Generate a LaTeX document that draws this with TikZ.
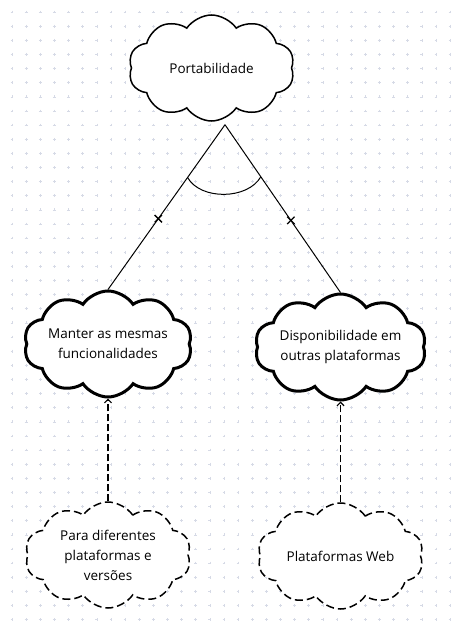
\documentclass[tikz,border=0pt]{standalone}
\usepackage{fontspec}
\setmainfont{Open Sans}
\usetikzlibrary{shapes.symbols,shapes.misc,arrows.meta,calc}
\definecolor{griddot}{RGB}{214,218,230}
\begin{document}
\begin{tikzpicture}[x=1pt,y=-1pt,
  cloudbox/.style={cloud, cloud puffs=10, cloud puff arc=112, cloud ignores aspect, draw, fill=white, align=center,
    font=\fontsize{13.5}{20}\selectfont, inner sep=0pt, minimum width=166, minimum height=106},
  softbold/.style={cloudbox, line width=3pt},
  softthin/.style={cloudbox, line width=1.5pt},
  softdash/.style={cloudbox, line width=1.5pt, dash pattern=on 8pt off 4pt},
  conn/.style={line width=1pt},
  plusmark/.style={cross out, draw, fill=white, line width=1.3pt, minimum size=6pt, inner sep=0pt},
  dasharrow/.style={line width=1.3pt, dash pattern=on 7pt off 3pt, -{Straight Barb[length=3.5pt,width=7pt,line width=1.2pt]}}]
\useasboundingbox (0,0) rectangle (450,626);
\fill[white] (0,0) rectangle (450,626);
\foreach \i in {0,...,31}{\foreach \j in {0,...,43}{
  \pgfmathsetmacro\gx{12+14.13*\i}\pgfmathsetmacro\gy{12+14.13*\j}
  \draw[griddot,line width=0.5pt] (\gx-1.4,\gy)--(\gx+1.4,\gy) (\gx,\gy-1.4)--(\gx,\gy+1.4);}}
\node[softthin] (top) at (211.5,68) {Portabilidade};
\node[softbold] (left) at (108,344) {Manter as mesmas\\funcionalidades};
\node[softbold] (right) at (340.5,347) {Disponibilidade em\\outras plataformas};
\node[softdash] (bl) at (108,555) {Para diferentes\\plataformas e\\versões};
\node[softdash] (br) at (340.5,556) {Plataformas Web};
\coordinate (apex) at ($(top.south)+(13.5,3)$);
\draw[conn] (apex) -- (left.north) node[plusmark, pos=0.57] (pl) {};
\draw[conn] (apex) -- (right.north) node[plusmark, pos=0.57] (pr) {};
\coordinate (a0) at ($(apex)!0.32!(left.north)$);
\coordinate (a1) at ($(apex)!0.31!(right.north)$);
\draw[conn] (a0) .. controls ($(a0)+(13,23)$) and ($(a1)+(-13,23)$) .. (a1);
\draw[dasharrow] (bl.north) -- (left.south);
\draw[dasharrow] (br.north) -- (right.south);
\end{tikzpicture}
\end{document}
